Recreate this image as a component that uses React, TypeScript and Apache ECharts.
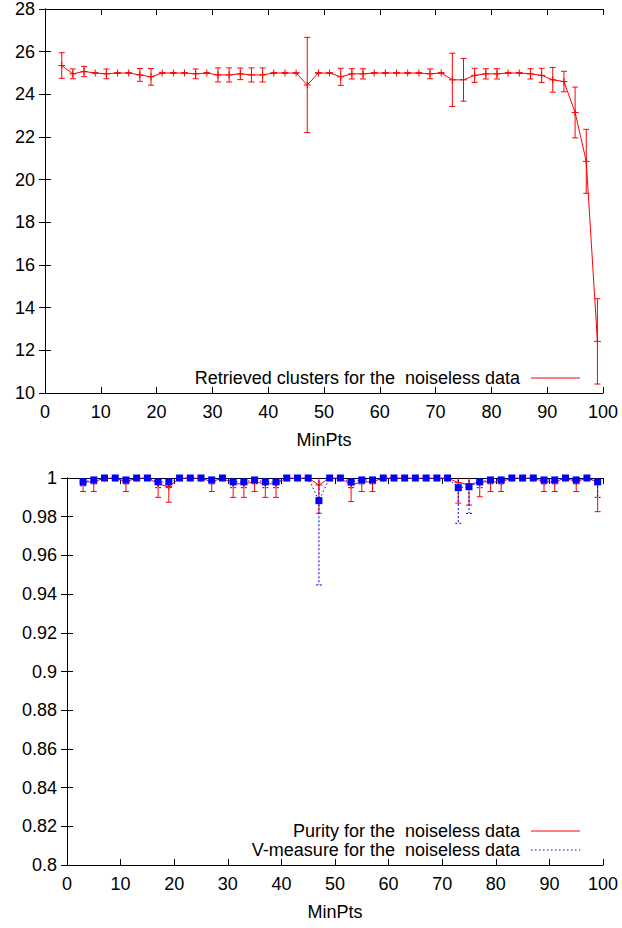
import React, { useEffect, useRef } from "react";
import * as echarts from "echarts";

const minPts = [3, 5, 7, 9, 11, 13, 15, 17, 19, 21, 23, 25, 27, 29, 31, 33, 35, 37, 39, 41, 43, 45, 47, 49, 51, 53, 55, 57, 59, 61, 63, 65, 67, 69, 71, 73, 75, 77, 79, 81, 83, 85, 87, 89, 91, 93, 95, 97, 99];

const clusters = [25.35, 24.96, 25.07, 25.0, 24.96, 25.0, 25.0, 24.91, 24.82, 25.0,
  25.0, 25.0, 24.96, 25.0, 24.91, 24.91, 24.96, 24.91, 24.91, 25.0,
  25.0, 25.0, 24.44, 25.0, 25.0, 24.82, 24.96, 24.96, 25.0, 25.0,
  25.0, 25.0, 25.0, 24.96, 25.0, 24.68, 24.68, 24.89, 24.96, 24.96,
  25.0, 25.0, 24.96, 24.89, 24.68, 24.6, 23.15, 20.86, 12.42];
const clustersErr = [0.6, 0.23, 0.24, 0, 0.23, 0, 0, 0.3, 0.39, 0,
  0, 0, 0.23, 0, 0.33, 0.33, 0.27, 0.33, 0.33, 0,
  0, 0, 2.23, 0, 0, 0.4, 0.24, 0.24, 0, 0,
  0, 0, 0, 0.23, 0, 1.25, 1.0, 0.33, 0.24, 0.24,
  0, 0, 0.24, 0.33, 0.58, 0.48, 1.19, 1.5, 2.0];

const purity = [0.998, 0.998, 1, 1, 0.998, 1, 1, 0.997, 0.9955, 1,
  1, 1, 0.998, 1, 0.997, 0.997, 0.998, 0.997, 0.997, 1,
  1, 1, 0.9964, 1, 1, 0.9964, 0.998, 0.998, 1, 1,
  1, 1, 1, 1, 1, 0.9976, 0.9966, 0.998, 0.998, 0.998,
  1, 1, 1, 0.998, 0.998, 1, 0.998, 1, 0.998];
const purityErr = [0.005, 0.005, 0, 0, 0.005, 0, 0, 0.007, 0.008, 0,
  0, 0, 0.005, 0, 0.007, 0.007, 0.005, 0.007, 0.007, 0,
  0, 0, 0.0146, 0, 0, 0.0086, 0.005, 0.005, 0, 0,
  0, 0, 0, 0, 0, 0.0106, 0.0106, 0.0077, 0.005, 0.005,
  0, 0, 0, 0.005, 0.005, 0, 0.005, 0, 0.0154];

const vmeasure = [0.998, 0.999, 1, 1, 0.999, 1, 1, 0.998, 0.998, 1,
  1, 1, 0.999, 1, 0.998, 0.998, 0.999, 0.998, 0.998, 1,
  1, 1, 0.9883, 1, 1, 0.998, 0.999, 0.999, 1, 1,
  1, 1, 1, 1, 1, 0.995, 0.9955, 0.998, 0.999, 0.999,
  1, 1, 1, 0.999, 0.999, 1, 0.999, 1, 0.998];
const vmeasureErr = [0.002, 0.002, 0, 0, 0.002, 0, 0, 0.003, 0.003, 0,
  0, 0, 0.002, 0, 0.003, 0.003, 0.002, 0.003, 0.003, 0,
  0, 0, 0.0436, 0, 0, 0.003, 0.002, 0.002, 0, 0,
  0, 0, 0, 0, 0, 0.0184, 0.0138, 0.003, 0.002, 0.002,
  0, 0, 0, 0.002, 0.002, 0, 0.002, 0, 0.008];

const xTicks = { min: 0, max: 100, interval: 10 };
const topY = { min: 10, max: 28, interval: 2 };
const botY = { min: 0.8, max: 1, interval: 0.02 };

const FONT = "'Liberation Sans', Arial, sans-serif";
const FS = 18;

function errRender(color: string, dashed: boolean, plus: boolean) {
  return (params: any, api: any) => {
    const x = api.value(0);
    const y = api.value(1);
    const e = api.value(2);
    const c = api.coord([x, y]);
    const hi = api.coord([x, y + e]);
    const lo = api.coord([x, y - e]);
    const style: any = { stroke: color, lineWidth: 1, fill: null };
    if (dashed) style.lineDash = [2, 2];
    const cap = 3;
    const children: any[] = [
      { type: "line", shape: { x1: c[0], y1: hi[1], x2: c[0], y2: lo[1] }, style },
      { type: "line", shape: { x1: c[0] - cap, y1: hi[1], x2: c[0] + cap, y2: hi[1] }, style },
      { type: "line", shape: { x1: c[0] - cap, y1: lo[1], x2: c[0] + cap, y2: lo[1] }, style },
    ];
    if (plus) {
      const ps: any = { stroke: color, lineWidth: 1 };
      children.push({ type: "line", shape: { x1: c[0] - 3.5, y1: c[1], x2: c[0] + 3.5, y2: c[1] }, style: ps });
      children.push({ type: "line", shape: { x1: c[0], y1: c[1] - 3.5, x2: c[0], y2: c[1] + 3.5 }, style: ps });
    }
    return { type: "group", children };
  };
}

function axisCommon(show: boolean) {
  return {
    axisLine: { show: true, lineStyle: { color: "#000", width: 1 } },
    axisTick: { show: true, inside: true, length: 6, lineStyle: { color: "#000" } },
    axisLabel: { show, color: "#000", fontSize: FS, fontFamily: FONT, margin: 10 },
    splitLine: { show: false },
  };
}

export default function App() {
  const ref = useRef<HTMLDivElement>(null);
  useEffect(() => {
    if (!ref.current) return;
    const chart = echarts.init(ref.current, undefined, { renderer: "svg" });
    const fmt = (v: number) => String(parseFloat(v.toFixed(2)));
    const nameStyle = { color: "#000", fontSize: FS, fontFamily: FONT };
    const option: any = {
      animation: false,
      backgroundColor: "#fff",
      grid: [
        { left: 45, right: 19, top: 7, bottom: 535 },
        { left: 67, right: 19, top: 478, bottom: 63 },
      ],
      xAxis: [
        { type: "value", gridIndex: 0, position: "bottom", ...xTicks, ...axisCommon(true), name: "MinPts", nameLocation: "middle", nameGap: 38, nameTextStyle: nameStyle },
        { type: "value", gridIndex: 0, position: "top", ...xTicks, ...axisCommon(false) },
        { type: "value", gridIndex: 1, position: "bottom", ...xTicks, ...axisCommon(true), name: "MinPts", nameLocation: "middle", nameGap: 38, nameTextStyle: nameStyle },
        { type: "value", gridIndex: 1, position: "top", ...xTicks, ...axisCommon(false) },
      ],
      yAxis: [
        { type: "value", gridIndex: 0, position: "left", ...topY, ...axisCommon(true) },
        { type: "value", gridIndex: 0, position: "right", ...topY, ...axisCommon(false) },
        { type: "value", gridIndex: 1, position: "left", ...botY, ...axisCommon(true), axisLabel: { ...axisCommon(true).axisLabel, formatter: fmt } },
        { type: "value", gridIndex: 1, position: "right", ...botY, ...axisCommon(false) },
      ],
      series: [
        {
          type: "line", name: "Retrieved clusters for the  noiseless data", xAxisIndex: 0, yAxisIndex: 0,
          data: minPts.map((m, i) => [m, clusters[i]]), showSymbol: false, symbol: "none",
          lineStyle: { color: "#ff0000", width: 1 },
        },
        {
          type: "custom", xAxisIndex: 0, yAxisIndex: 0, clip: true,
          data: minPts.map((m, i) => [m, clusters[i], clustersErr[i]]),
          encode: { x: 0, y: 1 },
          renderItem: errRender("#ff0000", false, true),
        },
        {
          type: "line", name: "Purity for the  noiseless data", xAxisIndex: 2, yAxisIndex: 2,
          data: minPts.map((m, i) => [m, purity[i]]), showSymbol: false, symbol: "none",
          lineStyle: { color: "#ff0000", width: 1 },
        },
        {
          type: "custom", xAxisIndex: 2, yAxisIndex: 2, clip: true,
          data: minPts.map((m, i) => [m, purity[i], purityErr[i]]),
          encode: { x: 0, y: 1 },
          renderItem: errRender("#ff0000", false, true),
        },
        {
          type: "line", name: "V-measure for the  noiseless data", xAxisIndex: 2, yAxisIndex: 2,
          data: minPts.map((m, i) => [m, vmeasure[i]]), symbol: "rect", symbolSize: 7, showSymbol: true,
          itemStyle: { color: "#0000ff" },
          lineStyle: { color: "#0000ff", width: 1, type: [1.5, 2.5] },
        },
        {
          type: "custom", xAxisIndex: 2, yAxisIndex: 2, clip: true,
          data: minPts.map((m, i) => [m, vmeasure[i], vmeasureErr[i]]),
          encode: { x: 0, y: 1 },
          renderItem: errRender("#0000ff", true, false),
        },
      ],
      graphic: [
        { type: "text", x: 520, y: 378, style: { text: "Retrieved clusters for the  noiseless data", fill: "#000", font: `${FS}px ${FONT}`, align: "right", verticalAlign: "middle" } },
        { type: "line", shape: { x1: 531, y1: 378, x2: 580, y2: 378 }, style: { stroke: "#ff0000", lineWidth: 1 } },
        { type: "text", x: 520, y: 831, style: { text: "Purity for the  noiseless data", fill: "#000", font: `${FS}px ${FONT}`, align: "right", verticalAlign: "middle" } },
        { type: "line", shape: { x1: 531, y1: 831, x2: 580, y2: 831 }, style: { stroke: "#ff0000", lineWidth: 1 } },
        { type: "text", x: 520, y: 850, style: { text: "V-measure for the  noiseless data", fill: "#000", font: `${FS}px ${FONT}`, align: "right", verticalAlign: "middle" } },
        { type: "line", shape: { x1: 531, y1: 850, x2: 580, y2: 850 }, style: { stroke: "#0000ff", lineWidth: 1, lineDash: [1.5, 2.5] } },
      ],
    };
    chart.setOption(option);
    return () => chart.dispose();
  }, []);
  return <div ref={ref} style={{ position: "fixed", left: 0, top: 0, width: 622, height: 928 }} />;
}
